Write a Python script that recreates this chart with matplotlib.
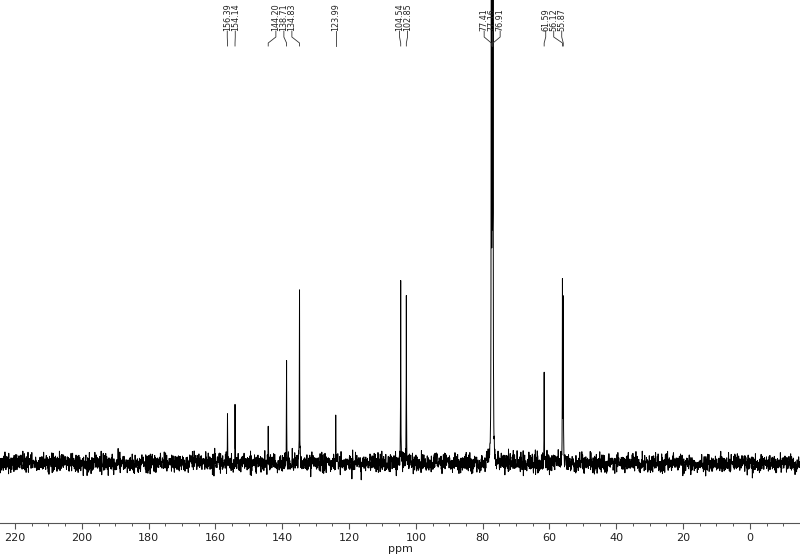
import matplotlib.pyplot as plt
from matplotlib.ticker import MultipleLocator
import numpy as np

# peak list (ppm) and peak heights
peak_ppm = [156.39, 154.14, 144.20, 138.71, 134.83, 123.99,
            104.54, 102.85, 77.41, 77.16, 76.91, 61.59, 56.12, 55.87]
peak_height = [52, 57, 37, 98, 177, 47,
               180, 172, 900, 900, 900, 94, 178, 155]
peak_labels = ["156.39", "154.14", "144.20", "138.71", "134.83", "123.99",
               "104.54", "102.85", "77.41", "77.16", "76.91", "61.59", "56.12", "55.87"]

x_lo, x_hi = -15, 224.5

# spectrum on a grid, with the peak positions added to it
grid = np.linspace(x_lo, x_hi, 4200)
ppm = np.sort(np.concatenate([grid, peak_ppm]))
spec = np.zeros_like(ppm)
for p, h in zip(peak_ppm, peak_height):
    gam = 0.045
    spec += h / (1 + ((ppm - p) / gam) ** 2)

# baseline noise texture
rng = np.random.default_rng(7)
spec += rng.normal(0, 4.6, ppm.size)

fig = plt.figure(figsize=(8, 5.57), dpi=100)
ax = fig.add_axes([0, 34 / 557, 1, 523 / 557])
ax.plot(ppm, spec, color="black", lw=0.7)
ax.set_xlim(x_hi, x_lo)
ax.set_ylim(-60, 463)

for s in ["left", "right", "top"]:
    ax.spines[s].set_visible(False)
ax.spines["bottom"].set_color("#555555")
ax.spines["bottom"].set_linewidth(0.8)
ax.set_yticks([])
ax.xaxis.set_major_locator(MultipleLocator(20))
ax.xaxis.set_minor_locator(MultipleLocator(5))
ax.tick_params(axis="x", which="major", length=4, width=0.8, color="#555555",
               labelsize=8, pad=3, labelcolor="#222222")
ax.tick_params(axis="x", which="minor", length=2.5, width=0.7, color="#555555")
ax.set_xlabel("ppm", fontsize=8, labelpad=1, color="#222222")

# label placement: clusters of close peaks spread evenly around their span
px_per_ppm = 800 / (x_hi - x_lo)
gap = 8 / px_per_ppm
groups = [[0]]
for i in range(1, len(peak_ppm)):
    if peak_ppm[groups[-1][-1]] - peak_ppm[i] < 6:
        groups[-1].append(i)
    else:
        groups.append([i])
lab_x = [0.0] * len(peak_ppm)
for g in groups:
    mid = (peak_ppm[g[0]] + peak_ppm[g[-1]]) / 2
    n = len(g)
    for k, i in enumerate(g):
        lab_x[i] = mid + (n - 1) / 2 * gap - k * gap

# y positions in data units (pixel rows from top of figure)
def ypix(row):
    return 463 - row

for i, lab in enumerate(peak_labels):
    lx, px = lab_x[i], peak_ppm[i]
    ax.text(lx, ypix(31), lab, rotation=90, ha="center", va="bottom",
            fontsize=5.8, color="#222222")
    ax.plot([lx, lx, px, px], [ypix(31), ypix(37), ypix(43), ypix(46)],
            color="#333333", lw=0.6)

fig.savefig("out.png", dpi=100)
